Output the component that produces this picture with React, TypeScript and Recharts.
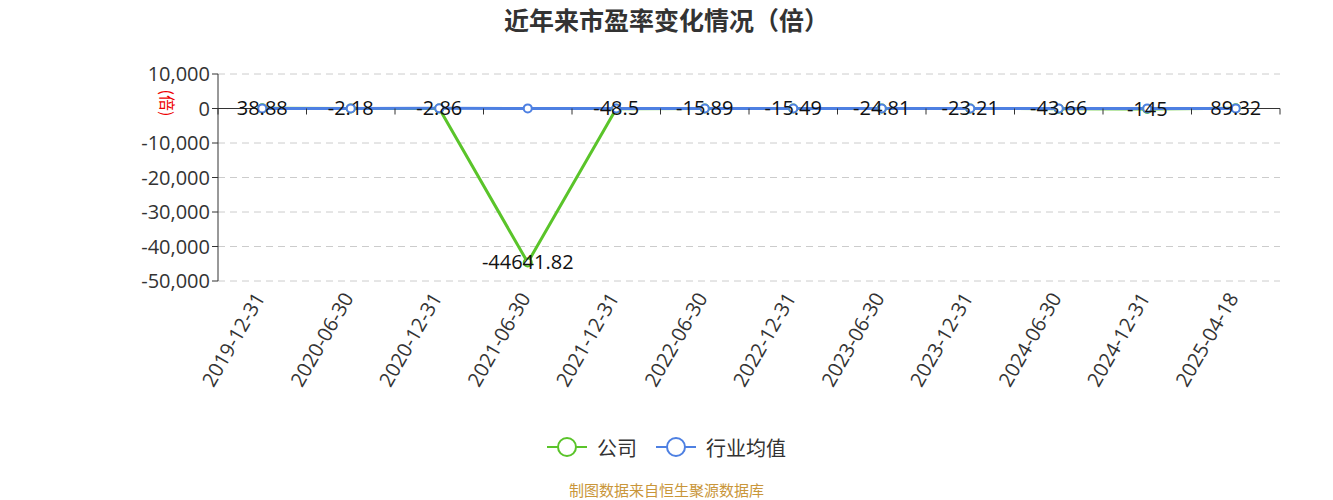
import { LineChart, Line, XAxis, YAxis, CartesianGrid, Legend, ReferenceLine, LabelList } from 'recharts';

const categories = ['2019-12-31', '2020-06-30', '2020-12-31', '2021-06-30', '2021-12-31', '2022-06-30', '2022-12-31', '2023-06-30', '2023-12-31', '2024-06-30', '2024-12-31', '2025-04-18'];
const companyPE = [38.88, -2.18, -2.86, -44641.82, -48.5, -15.89, -15.49, -24.81, -23.21, -43.66, -145, 89.32];
const industryPE = [30.5, 33.2, 36.8, 35.1, 27.4, 22.6, 24.9, 25.7, 23.8, 24.3, 26.1, 27.2];
const yTicks = [10000, 0, -10000, -20000, -30000, -40000, -50000];

const GREEN = '#5ac42a';
const BLUE = '#4e80e2';
const FONT = '"Open Sans", "Noto Sans CJK SC", sans-serif';
const CJK = '"Noto Sans CJK SC", "Noto Sans", sans-serif';

const W = 1333;
const H = 500;
const M = { top: 74, right: 53, left: 0, bottom: 0 };
const Y_AXIS_W = 218;
const LEGEND_H = 68;
const X_AXIS_H = 151;
const plotTop = M.top;
const plotH = H - M.top - LEGEND_H - X_AXIS_H;
const plotW = W - Y_AXIS_W - M.right;
const band = plotW / categories.length;
const zeroY = plotTop + (plotH * yTicks[0]) / (yTicks[0] - yTicks[yTicks.length - 1]);

const data = categories.map((c, i) => ({ date: c, company: companyPE[i], industry: industryPE[i] }));

const fmt = (v: number) => v.toLocaleString('en-US');

function XTick(props: any) {
  const { x, y, payload, index } = props;
  const last = index === categories.length - 1;
  const tx = x - 3;
  const ty = y + 5;
  return (
    <g>
      <line x1={x - band / 2} x2={x - band / 2} y1={zeroY} y2={zeroY + 6} stroke="#333" />
      {last && <line x1={x + band / 2} x2={x + band / 2} y1={zeroY} y2={zeroY + 6} stroke="#333" />}
      <text
        x={tx}
        y={ty}
        transform={`rotate(-60, ${tx}, ${ty})`}
        textAnchor="end"
        dominantBaseline="central"
        fontSize={20}
        fill="#333"
        fontFamily={FONT}
      >
        {payload.value}
      </text>
    </g>
  );
}

function ValueLabel(props: any) {
  const { x, y, value } = props;
  return (
    <text x={x} y={y - 1} textAnchor="middle" dominantBaseline="central" fontSize={20} fill="#111" fontFamily={FONT}>
      {value}
    </text>
  );
}

function LegendBox() {
  const items = [
    { name: '公司', color: GREEN },
    { name: '行业均值', color: BLUE },
  ];
  return (
    <div style={{ height: LEGEND_H, width: W, fontFamily: CJK }}>
      <div style={{ height: 30, display: 'flex', justifyContent: 'center', alignItems: 'center', gap: 19 }}>
        {items.map((it) => (
          <div key={it.name} style={{ display: 'flex', alignItems: 'center', gap: 10 }}>
            <svg width={40} height={22}>
              <line x1={0} x2={40} y1={11} y2={11} stroke={it.color} strokeWidth={2} />
              <circle cx={20} cy={11} r={9} fill="#fff" stroke={it.color} strokeWidth={2} />
            </svg>
            <span style={{ fontSize: 20, color: '#333' }}>{it.name}</span>
          </div>
        ))}
      </div>
      <div style={{ marginTop: 18, height: 20, lineHeight: '20px', textAlign: 'center', fontSize: 15, color: '#c9963a' }}>
        制图数据来自恒生聚源数据库
      </div>
    </div>
  );
}

export default function App() {
  return (
    <div style={{ position: 'absolute', left: 0, top: 0, width: W, height: H, background: '#fff', fontFamily: CJK }}>
      <div
        style={{
          position: 'absolute',
          top: 3,
          width: W,
          textAlign: 'center',
          fontSize: 25,
          fontWeight: 'bold',
          color: '#333',
          lineHeight: '32px',
        }}
      >
        近年来市盈率变化情况（倍）
      </div>
      <LineChart width={W} height={H} data={data} margin={M}>
        <CartesianGrid vertical={false} stroke="#ccc" strokeDasharray="7 5" />
        <XAxis
          dataKey="date"
          height={X_AXIS_H}
          axisLine={false}
          tickLine={false}
          interval={0}
          padding={{ left: band / 2, right: band / 2 }}
          tick={<XTick />}
        />
        <YAxis
          width={Y_AXIS_W}
          domain={[yTicks[yTicks.length - 1], yTicks[0]]}
          ticks={yTicks}
          interval={0}
          tickFormatter={fmt}
          axisLine={{ stroke: '#333' }}
          tickLine={{ stroke: '#333' }}
          tick={{ fontSize: 20, fill: '#333', fontFamily: FONT }}
          label={(p: any) => {
            const vb = p.viewBox;
            const cx = vb.x + vb.width - 50;
            const cy = vb.y + 29;
            return (
              <text
                x={cx}
                y={cy}
                transform={`rotate(90, ${cx}, ${cy})`}
                textAnchor="middle"
                dominantBaseline="central"
                fontSize={16}
                fill="#e00"
                fontFamily={CJK}
              >
                (倍)
              </text>
            );
          }}
        />
        <ReferenceLine y={0} stroke="#333" strokeWidth={1} />
        <Legend
          verticalAlign="bottom"
          height={LEGEND_H}
          wrapperStyle={{ left: 0, width: W }}
          content={<LegendBox />}
        />
        <Line
          name="公司"
          dataKey="company"
          stroke={GREEN}
          strokeWidth={3}
          dot={{ r: 4, fill: '#fff', stroke: GREEN, strokeWidth: 2 }}
          isAnimationActive={false}
        >
          <LabelList dataKey="company" content={<ValueLabel />} />
        </Line>
        <Line
          name="行业均值"
          dataKey="industry"
          stroke={BLUE}
          strokeWidth={3}
          dot={{ r: 4, fill: '#fff', stroke: BLUE, strokeWidth: 2 }}
          isAnimationActive={false}
        />
      </LineChart>
    </div>
  );
}
